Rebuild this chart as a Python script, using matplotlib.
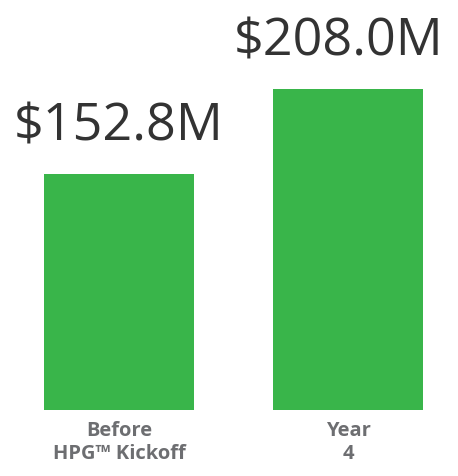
import matplotlib
matplotlib.use("Agg")
import matplotlib.pyplot as plt

categories = ["Before\nHPG™ Kickoff", "Year\n4"]
values = [152.8, 208.0]
value_labels = ["$152.8M", "$208.0M"]

fig = plt.figure(figsize=(4.58, 4.76), dpi=100)
ax = fig.add_axes([0, 66/476, 1, 410/476])
x = list(range(len(categories)))
bars = ax.bar(x, values, width=150/229, color="#39b54a")
ax.set_xlim(-119/229, (458-119)/229)
ax.set_ylim(0, 208*410/321)
for s in ax.spines.values():
    s.set_visible(False)
ax.set_yticks([])
ax.set_xticks(x)
ax.set_xticklabels(categories, fontsize=14.5, fontweight="bold", color="#6d6e71",
                   family=["Open Sans", "DejaVu Sans"], linespacing=1.2)
ax.tick_params(axis="x", length=0, pad=8)

offsets = [0, -9]
for i, (v, lab) in enumerate(zip(values, value_labels)):
    ax.annotate(lab, xy=(i, v), xytext=(offsets[i]*0.72, 24), textcoords="offset points",
                ha="center", va="baseline", fontsize=37.5, color="#333333",
                family=["Open Sans", "DejaVu Sans"])

fig.savefig("out.png", dpi=100)
